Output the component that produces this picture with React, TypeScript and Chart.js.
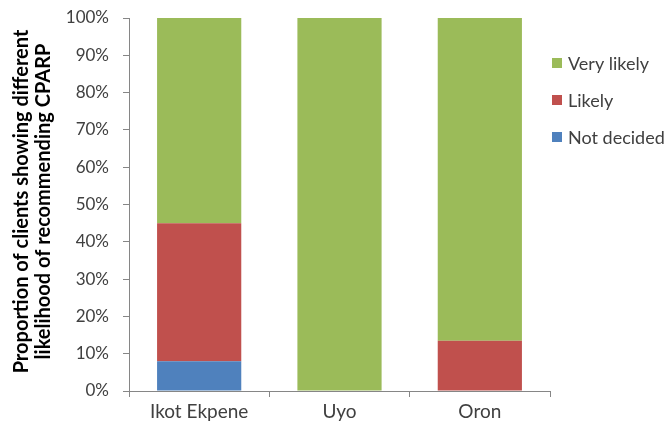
import React, { useEffect, useRef } from "react";
import { Chart, registerables } from "chart.js";

Chart.register(...registerables);

const categories = ["Ikot Ekpene", "Uyo", "Oron"];
const notDecided = [8, 0, 0];
const likely = [37, 0, 13.5];
const veryLikely = [55, 100, 86.5];
const seriesNames = ["Not decided", "Likely", "Very likely"];
const seriesColors = ["#4F81BD", "#C0504D", "#9BBB59"];
const yTitle = ["Proportion of clients showing different", "likelihood of recommending CPARP"];

const TEXT = "#404040";
const AXIS = "#868686";

const legendPlugin = {
  id: "customLegend",
  afterDraw(chart: any) {
    const ctx = chart.ctx;
    const ds = chart.data.datasets.slice().reverse();
    const x0 = chart.chartArea.right + 2;
    const y0 = 63;
    const step = 37;
    ctx.save();
    ctx.font = "18px Lato";
    ctx.textBaseline = "middle";
    ctx.textAlign = "left";
    ds.forEach((d: any, i: number) => {
      const cy = y0 + i * step;
      ctx.fillStyle = d.backgroundColor;
      ctx.fillRect(x0, cy - 5, 10, 10);
      ctx.fillStyle = TEXT;
      ctx.fillText(d.label, x0 + 16, cy + 1);
    });
    ctx.restore();
  },
};

const yTitlePlugin = {
  id: "yTitle",
  afterDraw(chart: any) {
    const ctx = chart.ctx;
    const { top, bottom } = chart.chartArea;
    ctx.save();
    ctx.translate(0, (top + bottom) / 2 - 3);
    ctx.rotate(-Math.PI / 2);
    ctx.font = "bold 20px Lato";
    ctx.fillStyle = "#000";
    ctx.textAlign = "center";
    ctx.textBaseline = "alphabetic";
    yTitle.forEach((line, i) => {
      ctx.fillText(line, 0, 28 + i * 22);
    });
    ctx.restore();
  },
};

export default function App() {
  const ref = useRef<HTMLCanvasElement>(null);
  useEffect(() => {
    if (!ref.current) return;
    Chart.defaults.font.family = "Lato";
    const series = [notDecided, likely, veryLikely];
    const chart = new Chart(ref.current, {
      type: "bar",
      data: {
        labels: categories,
        datasets: series.map((vals, i) => ({
          label: seriesNames[i],
          data: vals,
          backgroundColor: seriesColors[i],
          borderWidth: 0,
          barPercentage: 0.6,
          categoryPercentage: 1,
        })),
      },
      options: {
        animation: false,
        responsive: true,
        maintainAspectRatio: false,
        layout: { padding: { top: 18, right: 121, bottom: 0, left: 0 } },
        plugins: { legend: { display: false }, tooltip: { enabled: false } },
        scales: {
          x: {
            stacked: true,
            grid: { drawOnChartArea: false, drawTicks: true, tickLength: 6, color: AXIS, offset: true },
            border: { display: true, color: AXIS, width: 1 },
            ticks: { color: TEXT, font: { size: 19 }, padding: 3 },
            afterFit: (s: any) => { s.height = 36; s.paddingLeft = 0; s.paddingRight = 0; },
          },
          y: {
            stacked: true,
            min: 0,
            max: 100,
            grid: { drawOnChartArea: false, drawTicks: true, tickLength: 6, color: AXIS },
            border: { display: true, color: AXIS, width: 1 },
            ticks: { stepSize: 10, color: TEXT, font: { size: 17 }, padding: 14, callback: (v: any) => v + "%" },
            afterFit: (s: any) => { s.width = 129; s.paddingTop = 0; s.paddingBottom = 0; },
          },
        },
      },
      plugins: [legendPlugin, yTitlePlugin],
    });
    return () => chart.destroy();
  }, []);
  return (
    <div style={{ position: "fixed", left: 0, top: 0, width: 671, height: 427, background: "#fff" }}>
      <canvas ref={ref} />
    </div>
  );
}
